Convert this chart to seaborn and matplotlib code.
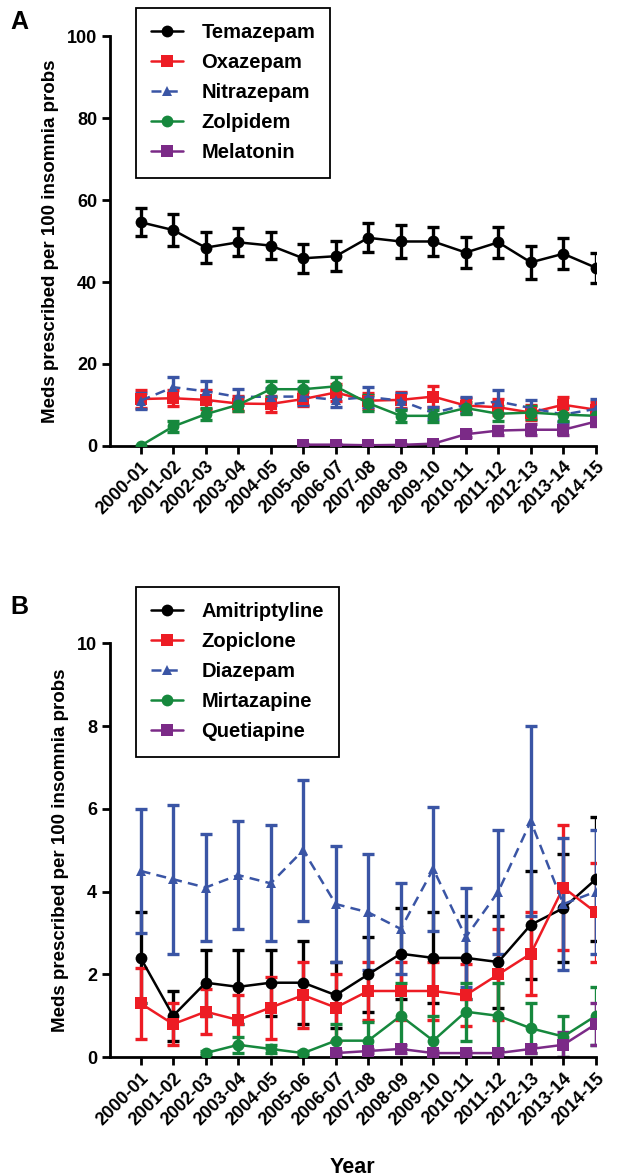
import numpy as np
import pandas as pd
import seaborn as sns
import matplotlib.pyplot as plt

nan = np.nan

years = ['2000-01', '2001-02', '2002-03', '2003-04', '2004-05', '2005-06', '2006-07',
         '2007-08', '2008-09', '2009-10', '2010-11', '2011-12', '2012-13', '2013-14', '2014-15']

# panel A
temazepam = [54.6, 52.7, 48.4, 49.7, 48.9, 45.8, 46.3, 50.8, 49.9, 49.9, 47.2, 49.7, 44.8, 46.9, 43.5]
temazepam_err = [3.4, 4.0, 3.7, 3.4, 3.4, 3.6, 3.6, 3.5, 4.0, 3.6, 3.9, 3.8, 4.1, 3.8, 3.7]
oxazepam = [11.4, 11.6, 11.2, 10.3, 10.2, 11.4, 13.0, 11.0, 11.2, 12.0, 9.8, 9.4, 8.1, 10.0, 8.8]
oxazepam_err = [2.2, 2.0, 2.3, 1.8, 2.0, 1.8, 2.0, 2.0, 2.0, 2.5, 1.8, 2.0, 1.8, 2.0, 2.0]
nitrazepam = [11.0, 14.3, 13.3, 11.9, 12.0, 12.0, 11.2, 11.9, 11.0, 8.0, 10.0, 10.8, 9.2, 7.6, 9.0]
nitrazepam_err = [2.0, 2.4, 2.4, 2.0, 2.0, 2.0, 1.8, 2.4, 2.0, 1.5, 2.0, 2.7, 2.0, 1.8, 2.3]
zolpidem = [0.0, 4.7, 7.7, 10.0, 13.8, 13.8, 14.5, 10.4, 7.3, 7.3, 9.2, 7.8, 8.1, 7.6, 7.3]
zolpidem_err = [0.0, 1.3, 1.5, 1.5, 2.0, 2.0, 2.3, 2.0, 1.5, 1.5, 1.5, 1.8, 1.5, 1.5, 1.5]
melatonin = [nan, nan, nan, nan, nan, 0.25, 0.25, 0.1, 0.2, 0.5, 2.8, 3.7, 3.9, 3.9, 5.9]
melatonin_err = [nan, nan, nan, nan, nan, 0.1, 0.1, 0.1, 0.1, 0.2, 0.7, 1.2, 1.3, 1.2, 1.0]

# panel B
amitriptyline = [2.4, 1.0, 1.8, 1.7, 1.8, 1.8, 1.5, 2.0, 2.5, 2.4, 2.4, 2.3, 3.2, 3.6, 4.3]
amitriptyline_err = [1.1, 0.6, 0.8, 0.9, 0.8, 1.0, 0.8, 0.9, 1.1, 1.1, 1.0, 1.1, 1.3, 1.3, 1.5]
zopiclone = [1.3, 0.8, 1.1, 0.9, 1.2, 1.5, 1.2, 1.6, 1.6, 1.6, 1.5, 2.0, 2.5, 4.1, 3.5]
zopiclone_err = [0.85, 0.5, 0.55, 0.6, 0.75, 0.8, 0.8, 0.7, 0.7, 0.7, 0.75, 1.1, 1.0, 1.5, 1.2]
diazepam = [4.5, 4.3, 4.1, 4.4, 4.2, 5.0, 3.7, 3.5, 3.1, 4.55, 2.9, 4.0, 5.7, 3.7, 4.0]
diazepam_err = [1.5, 1.8, 1.3, 1.3, 1.4, 1.7, 1.4, 1.4, 1.1, 1.5, 1.2, 1.5, 2.3, 1.6, 1.5]
mirtazapine = [nan, nan, 0.1, 0.3, 0.2, 0.1, 0.4, 0.4, 1.0, 0.4, 1.1, 1.0, 0.7, 0.5, 1.0]
mirtazapine_err = [nan, nan, 0.05, 0.2, 0.1, 0.05, 0.4, 0.45, 0.8, 0.6, 0.7, 0.8, 0.6, 0.5, 0.7]
quetiapine = [nan, nan, nan, nan, nan, nan, 0.1, 0.15, 0.2, 0.1, 0.1, 0.1, 0.2, 0.3, 0.8]
quetiapine_err = [nan, nan, nan, nan, nan, nan, 0.05, 0.05, 0.1, 0.05, 0.05, 0.05, 0.1, 0.3, 0.5]

BLACK = '#000000'
RED = '#ED1C24'
BLUE = '#3A55A5'
GREEN = '#16883D'
PURPLE = '#7B2A87'

sns.set_style("ticks")
plt.rcParams['font.family'] = ['Liberation Sans', 'DejaVu Sans']
plt.rcParams['font.weight'] = 'bold'
plt.rcParams['axes.labelweight'] = 'bold'
plt.rcParams['text.color'] = 'black'
plt.rcParams['axes.labelcolor'] = 'black'
plt.rcParams['axes.edgecolor'] = 'black'
plt.rcParams['xtick.color'] = 'black'
plt.rcParams['ytick.color'] = 'black'

fig = plt.figure(figsize=(6.2, 11.76), dpi=100)
axA = fig.add_axes([0.177, 0.621, 0.784, 0.348])
axB = fig.add_axes([0.177, 0.101, 0.784, 0.352])

x = np.arange(len(years))


def draw(ax, name, vals, errs, color, marker, ls, ms):
    df = pd.DataFrame({'x': x, 'y': vals})
    ax.errorbar(x, vals, yerr=errs, fmt='none', ecolor=color, elinewidth=2.4,
                capsize=4.5, capthick=2.4, zorder=2)
    sns.lineplot(data=df, x='x', y='y', ax=ax, color=color, marker=marker,
                 linestyle=ls, linewidth=1.8, markersize=ms, markeredgewidth=0,
                 label=name, zorder=3)


draw(axA, 'Temazepam', temazepam, temazepam_err, BLACK, 'o', '-', 8.5)
draw(axA, 'Oxazepam', oxazepam, oxazepam_err, RED, 's', '-', 8.5)
draw(axA, 'Nitrazepam', nitrazepam, nitrazepam_err, BLUE, '^', (0, (4, 2.5)), 7.5)
draw(axA, 'Zolpidem', zolpidem, zolpidem_err, GREEN, 'o', '-', 8.5)
draw(axA, 'Melatonin', melatonin, melatonin_err, PURPLE, 's', '-', 8.5)

draw(axB, 'Amitriptyline', amitriptyline, amitriptyline_err, BLACK, 'o', '-', 8.5)
draw(axB, 'Zopiclone', zopiclone, zopiclone_err, RED, 's', '-', 8.5)
draw(axB, 'Diazepam', diazepam, diazepam_err, BLUE, '^', (0, (4, 2.5)), 7.5)
draw(axB, 'Mirtazapine', mirtazapine, mirtazapine_err, GREEN, 'o', '-', 8.5)
draw(axB, 'Quetiapine', quetiapine, quetiapine_err, PURPLE, 's', '-', 8.5)

for ax, ymax, step, top in [(axA, 100, 20, 8), (axB, 10, 2, 587)]:
    ax.set_xlim(-0.95, 14)
    ax.set_ylim(0, ymax)
    ax.set_yticks(np.arange(0, ymax + 1, step))
    ax.set_xticks(x)
    ax.set_xticklabels(years, rotation=45, ha='right', rotation_mode='anchor')
    ax.tick_params(axis='both', labelsize=13, width=2, length=6, direction='out', pad=3)
    for lbl in ax.get_xticklabels() + ax.get_yticklabels():
        lbl.set_fontweight('bold')
    sns.despine(ax=ax)
    for s in ['left', 'bottom']:
        ax.spines[s].set_linewidth(2)
    ax.set_ylabel('Meds prescribed per 100 insomnia probs', fontsize=13.5, fontweight='bold',
                  labelpad=6)
    ax.set_xlabel('')
    handles, labels = ax.get_legend_handles_labels()
    leg = ax.legend(handles, labels, loc='upper left', bbox_to_anchor=(136 / 620, 1 - top / 1176),
                    bbox_transform=fig.transFigure, borderaxespad=0, fancybox=False,
                    framealpha=1, edgecolor='black', handlelength=1.6, handletextpad=0.9,
                    labelspacing=0.55, borderpad=0.75, prop={'size': 14.5, 'weight': 'bold'})
    leg.get_frame().set_linewidth(1.3)

axB.set_xlabel('Year', fontsize=15.5, fontweight='bold', labelpad=20)

fig.text(10 / 620, 1 - 22 / 1176, 'A', fontsize=18, fontweight='bold', va='center')
fig.text(10 / 620, 1 - 607 / 1176, 'B', fontsize=18, fontweight='bold', va='center')

fig.savefig('out.png', dpi=100)
